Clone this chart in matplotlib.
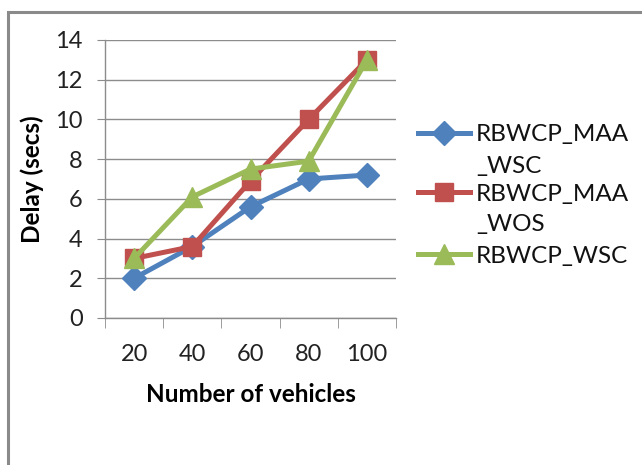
import matplotlib.pyplot as plt
import matplotlib.patches as patches
from matplotlib.lines import Line2D
import numpy as np

# Delay measured for each fleet size, one list per scheme.
vehicles = ["20", "40", "60", "80", "100"]
maa_wsc = [2.0, 3.6, 5.6, 7.0, 7.2]
maa_wos = [3.0, 3.6, 6.9, 10.0, 13.0]
wsc = [3.0, 6.1, 7.5, 7.9, 13.0]
labels = ["RBWCP_MAA\n_WSC", "RBWCP_MAA\n_WOS", "RBWCP_WSC"]

colors = ["#4F81BD", "#C0504D", "#9BBB59"]
markers = ["D", "s", "^"]
sizes = [12.5, 13.5, 14]

plt.rcParams['font.family'] = ['Lato', 'DejaVu Sans']

fig = plt.figure(figsize=(6.42, 4.65), dpi=100)
ax = fig.add_axes([105 / 642, 1 - 318 / 465, 291 / 642, 278 / 465])

x = np.arange(len(vehicles))
for series, c, m, s in zip([maa_wsc, maa_wos, wsc], colors, markers, sizes):
    ax.plot(x, series, color=c, marker=m, markersize=s, linewidth=3.6,
            markeredgecolor=c, zorder=3)

ax.set_xlim(-0.5, len(vehicles) - 0.5)
ax.set_ylim(0, 14)
ax.set_yticks(np.arange(0, 15, 2))
ax.set_xticks(x)
ax.set_xticklabels(vehicles)
ax.set_xticks(np.arange(-0.5, len(vehicles)), minor=True)

ax.grid(axis='y', color='#8c8c8c', linewidth=1)
ax.set_axisbelow(True)
for side in ['top', 'right']:
    ax.spines[side].set_visible(False)
for side in ['left', 'bottom']:
    ax.spines[side].set_color('#8c8c8c')
    ax.spines[side].set_linewidth(1)

ax.tick_params(axis='y', length=6, color='#8c8c8c', labelsize=17, pad=10,
               labelcolor='#222222')
ax.tick_params(axis='x', which='major', length=0, labelsize=17, pad=19,
               labelcolor='#222222')
ax.tick_params(axis='x', which='minor', length=7, color='#8c8c8c')

ax.set_ylabel('Delay (secs)', fontsize=17.5, fontweight='bold', labelpad=8)
ax.set_xlabel('Number of vehicles', fontsize=17.5, fontweight='bold', labelpad=13)

# Legend drawn by hand so the marker sits on the first text line
entry_y = [133, 192, 254]
line_step = 31
for lab, c, m, s, yy in zip(labels, colors, markers, sizes, entry_y):
    fy = 1 - yy / 465
    fig.add_artist(Line2D([418 / 642, 470 / 642], [fy, fy], color=c,
                          linewidth=3.6, transform=fig.transFigure))
    fig.add_artist(Line2D([444 / 642], [fy], color=c, marker=m, markersize=s,
                          transform=fig.transFigure))
    for i, part in enumerate(lab.split('\n')):
        fig.text(476 / 642, 1 - (yy + i * line_step) / 465, part, fontsize=17.5,
                 va='center_baseline', ha='left', color='#111111')

# Chart border
fig.add_artist(patches.Rectangle((8 / 642, -0.1), 1.2, 1 - 12 / 465 + 0.1,
                                 fill=False, edgecolor='#8a8a8a', linewidth=2.2,
                                 transform=fig.transFigure))

fig.savefig('out.png', dpi=100)
